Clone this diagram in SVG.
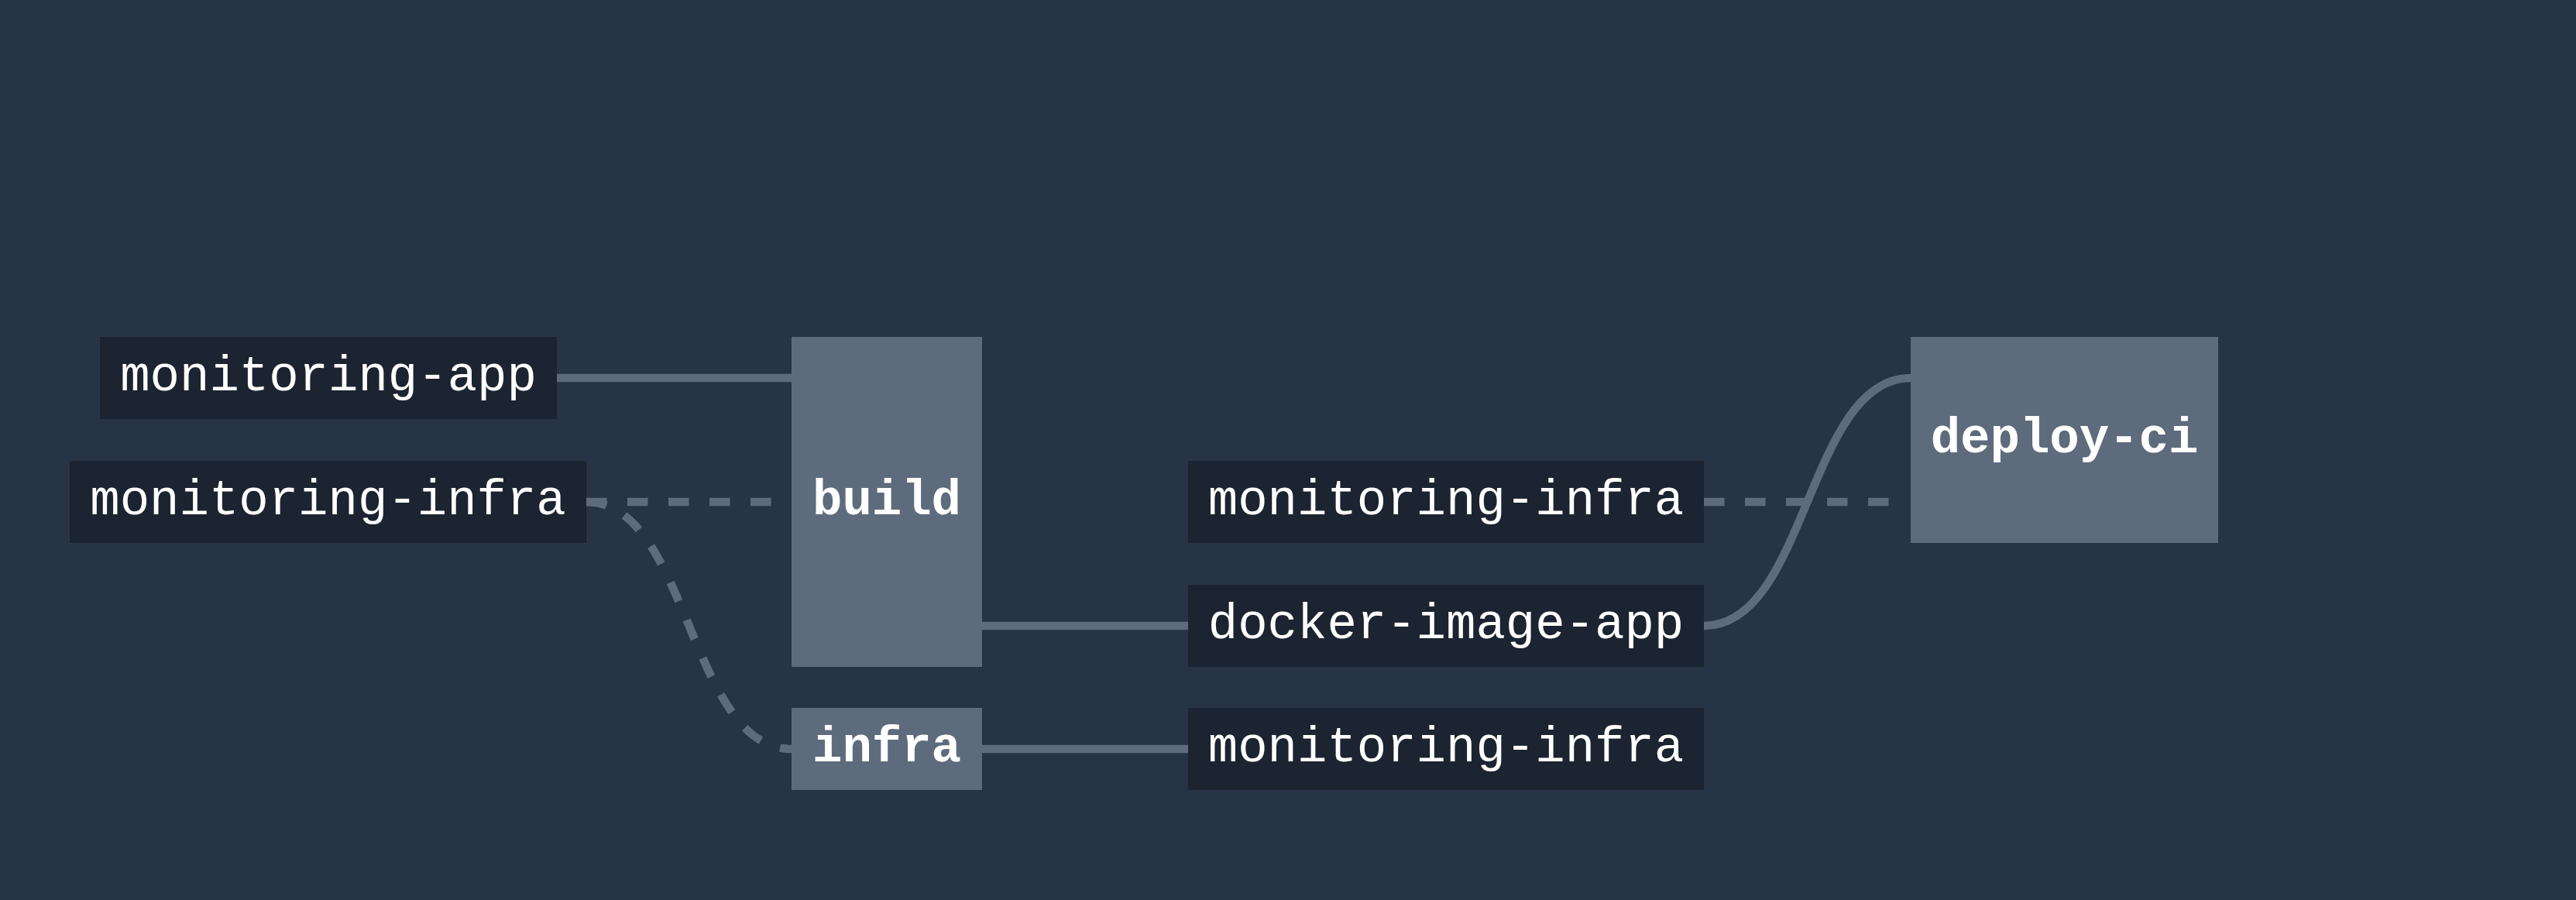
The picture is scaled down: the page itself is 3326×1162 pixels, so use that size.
<svg xmlns="http://www.w3.org/2000/svg" width="3326" height="1162" viewBox="0 0 3326 1162">
  <style>
    .bg { fill: #263446; }
    .dark { fill: #1b2430; }
    .grey { fill: #5d6b7c; }
    .lbl { font-family: "Courier New", "Liberation Mono", monospace; font-size: 64px; fill: #ffffff; text-anchor: middle; }
    .bold { font-weight: bold; }
    .edge { fill: none; stroke: #5d6b7c; stroke-width: 10.6; }
    .dash { stroke-dasharray: 26.5 26.5; }
  </style>
  <rect class="bg" x="0" y="0" width="3326" height="1162"/>

  <g id="connectors">
    <path class="edge" d="M718,488 H1022"/>
    <path class="edge dash" d="M757,648 H1022"/>
    <path class="edge dash" d="M757,648 C889.5,648 889.5,967 1022,967"/>
    <path class="edge" d="M1268,808 H1534"/>
    <path class="edge" d="M1268,967 H1534"/>
    <path class="edge dash" d="M2200,648 H2465"/>
    <path class="edge" d="M2200,808 C2333.5,808 2333.5,488 2467,488"/>
  </g>

  <g id="node-monitoring-app">
    <rect class="dark" x="129" y="435" width="590" height="106"/>
    <text class="lbl" x="424" y="504">monitoring-app</text>
  </g>
  <g id="node-monitoring-infra-left">
    <rect class="dark" x="90" y="595" width="667" height="106"/>
    <text class="lbl" x="423.5" y="664">monitoring-infra</text>
  </g>
  <g id="node-build">
    <rect class="grey" x="1022" y="435" width="246" height="426"/>
    <text class="lbl bold" x="1145" y="664">build</text>
  </g>
  <g id="node-infra">
    <rect class="grey" x="1022" y="914" width="246" height="106"/>
    <text class="lbl bold" x="1145" y="983">infra</text>
  </g>
  <g id="node-monitoring-infra-mid">
    <rect class="dark" x="1534" y="595" width="666" height="106"/>
    <text class="lbl" x="1867" y="664">monitoring-infra</text>
  </g>
  <g id="node-docker-image-app">
    <rect class="dark" x="1534" y="755" width="666" height="106"/>
    <text class="lbl" x="1867" y="824">docker-image-app</text>
  </g>
  <g id="node-monitoring-infra-bottom">
    <rect class="dark" x="1534" y="914" width="666" height="106"/>
    <text class="lbl" x="1867" y="983">monitoring-infra</text>
  </g>
  <g id="node-deploy-ci">
    <rect class="grey" x="2467" y="435" width="397" height="266"/>
    <text class="lbl bold" x="2665.5" y="584">deploy-ci</text>
  </g>
</svg>
